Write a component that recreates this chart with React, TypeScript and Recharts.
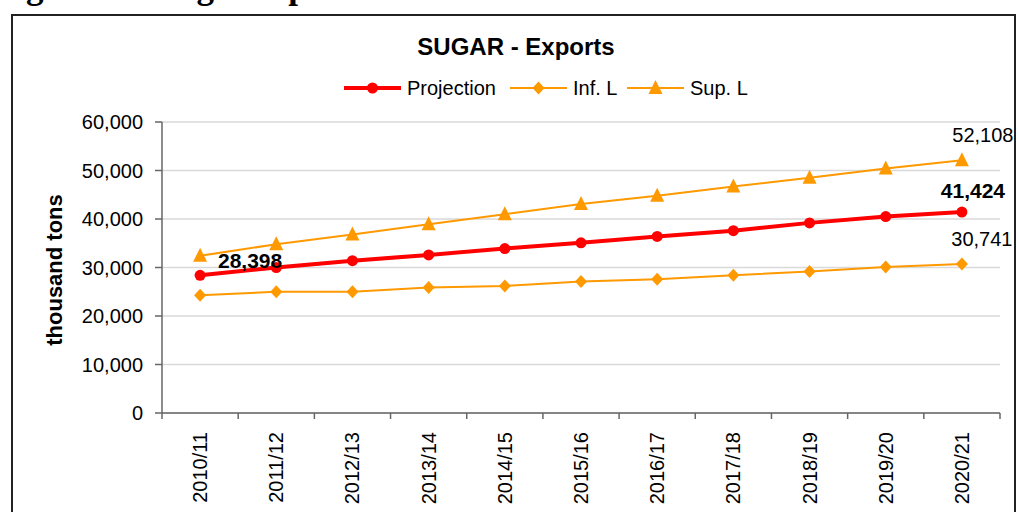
import { LineChart, Line, XAxis, YAxis, CartesianGrid } from 'recharts'

const categories = [
  '2010/11', '2011/12', '2012/13', '2013/14', '2014/15', '2015/16',
  '2016/17', '2017/18', '2018/19', '2019/20', '2020/21',
]
const projection = [28398, 30000, 31400, 32600, 33900, 35100, 36400, 37600, 39200, 40500, 41424]
const infL = [24300, 25000, 25000, 25900, 26200, 27100, 27600, 28400, 29200, 30100, 30741]
const supL = [32400, 34800, 36800, 38900, 41000, 43100, 44800, 46700, 48500, 50400, 52108]
const yTicks = [0, 10000, 20000, 30000, 40000, 50000, 60000]

const legendItems = [
  { name: 'Projection', marker: 'circle' },
  { name: 'Inf. L', marker: 'diamond' },
  { name: 'Sup. L', marker: 'triangle' },
]

const FONT = '"Liberation Sans", Arial, sans-serif'
const RED = '#ff0000'
const ORANGE = '#ff9900'
const AXIS = '#666666'
const PLOT_LEFT = 162
const PLOT_RIGHT = 1000
const HALF_BAND = (PLOT_RIGHT - PLOT_LEFT) / categories.length / 2

const data = categories.map((season, i) => ({
  season,
  projection: projection[i],
  inf: infL[i],
  sup: supL[i],
}))

const fmt = (v: number) => Number(v).toLocaleString('en-US')

function Marker({ kind, cx, cy, color }: { kind: string; cx: number; cy: number; color: string }) {
  if (kind === 'circle') return <circle cx={cx} cy={cy} r={5.5} fill={color} />
  if (kind === 'diamond')
    return <polygon points={`${cx},${cy - 6.5} ${cx + 6},${cy} ${cx},${cy + 6.5} ${cx - 6},${cy}`} fill={color} />
  return <polygon points={`${cx},${cy - 8} ${cx + 7},${cy + 6} ${cx - 7},${cy + 6}`} fill={color} />
}

const dotOf = (kind: string, color: string) => (p: any) => {
  if (p.cx == null || p.cy == null) return <g key={`d${p.index}`} />
  return <Marker key={`d${p.index}`} kind={kind} cx={p.cx} cy={p.cy} color={color} />
}

// label only selected points, offsets per index
const labelOf = (spots: Record<number, { dx: number; dy: number }>, bold: boolean) => (p: any) => {
  const spot = spots[p.index]
  if (!spot) return null
  const x = p.x ?? p.viewBox?.x
  const y = p.y ?? p.viewBox?.y
  return (
    <text
      key={`l${p.index}`}
      x={x + spot.dx}
      y={y + spot.dy}
      textAnchor="middle"
      fontSize={bold ? 21 : 20}
      fontWeight={bold ? 'bold' : 'normal'}
      fontFamily={FONT}
      fill="#000"
    >
      {fmt(p.value)}
    </text>
  )
}

function SeasonTick(props: any) {
  const { x, y, payload, index } = props
  const last = index === categories.length - 1
  const tx = x + 7
  const ty = y + 19
  return (
    <g>
      <line x1={x - HALF_BAND} x2={x - HALF_BAND} y1={y} y2={y + 6} stroke={AXIS} strokeWidth={1.5} />
      {last && <line x1={x + HALF_BAND} x2={x + HALF_BAND} y1={y} y2={y + 6} stroke={AXIS} strokeWidth={1.5} />}
      <text
        x={tx}
        y={ty}
        transform={`rotate(-90, ${tx}, ${ty})`}
        textAnchor="end"
        fontSize={20}
        fontFamily={FONT}
        fill="#000"
      >
        {payload.value}
      </text>
    </g>
  )
}

function Decor() {
  const legendX = [344, 510, 627]
  const colors = [RED, ORANGE, ORANGE]
  return (
    <svg width={1018} height={512} style={{ position: 'absolute', left: 0, top: 0 }}>
      <text x={-5} y={-2} fontSize={35} fontWeight="bold" fontFamily='"Liberation Serif", "Times New Roman", serif' fill="#000">
        Figure 10: Sugar exports
      </text>
      <rect x={12} y={15} width={1003} height={600} fill="#fff" stroke="#222" strokeWidth={2} />
      <text x={516} y={55} textAnchor="middle" fontSize={24} fontWeight="bold" fontFamily={FONT} fill="#000">
        SUGAR - Exports
      </text>
      {legendItems.map((item, i) => {
        const x0 = legendX[i]
        const w = 57
        return (
          <g key={item.name}>
            <line x1={x0} x2={x0 + w} y1={88} y2={88} stroke={colors[i]} strokeWidth={i === 0 ? 4 : 2} />
            <Marker kind={item.marker} cx={x0 + w / 2} cy={88} color={colors[i]} />
            <text x={x0 + w + 6} y={95} fontSize={20} fontFamily={FONT} fill="#000">
              {item.name}
            </text>
          </g>
        )
      })}
      <text
        x={62}
        y={270}
        transform="rotate(-90, 62, 270)"
        textAnchor="middle"
        fontSize={22}
        fontWeight="bold"
        fontFamily={FONT}
        fill="#000"
      >
        thousand tons
      </text>
    </svg>
  )
}

export default function App() {
  return (
    <div style={{ position: 'absolute', left: 0, top: 0, width: 1018, height: 512, overflow: 'hidden', background: '#fff' }}>
      <Decor />
      <div style={{ position: 'absolute', left: 0, top: 0 }}>
        <LineChart width={1018} height={512} data={data} margin={{ top: 122, right: 1018 - PLOT_RIGHT, left: 0, bottom: 0 }}>
          <CartesianGrid vertical={false} stroke="#d9d9d9" strokeWidth={1.5} />
          <XAxis
            dataKey="season"
            height={99}
            interval={0}
            padding={{ left: HALF_BAND, right: HALF_BAND }}
            axisLine={{ stroke: AXIS, strokeWidth: 1.5 }}
            tickLine={false}
            tickSize={0}
            tickMargin={0}
            tick={SeasonTick}
          />
          <YAxis
            width={PLOT_LEFT}
            domain={[0, 60000]}
            ticks={yTicks}
            interval={0}
            tickFormatter={fmt}
            tickSize={7}
            tickMargin={12}
            axisLine={{ stroke: AXIS, strokeWidth: 1.5 }}
            tickLine={{ stroke: AXIS, strokeWidth: 1.5 }}
            tick={{ fontSize: 20, fill: '#000', fontFamily: FONT }}
          />
          <Line
            dataKey="sup"
            stroke={ORANGE}
            strokeWidth={2}
            dot={dotOf('triangle', ORANGE)}
            label={labelOf({ 10: { dx: 21, dy: -18 } }, false)}
            isAnimationActive={false}
          />
          <Line
            dataKey="inf"
            stroke={ORANGE}
            strokeWidth={2}
            dot={dotOf('diamond', ORANGE)}
            label={labelOf({ 10: { dx: 20, dy: -18 } }, false)}
            isAnimationActive={false}
          />
          <Line
            dataKey="projection"
            stroke={RED}
            strokeWidth={4}
            dot={dotOf('circle', RED)}
            label={labelOf({ 0: { dx: 50, dy: -7 }, 10: { dx: 11, dy: -14 } }, true)}
            isAnimationActive={false}
          />
        </LineChart>
      </div>
    </div>
  )
}
